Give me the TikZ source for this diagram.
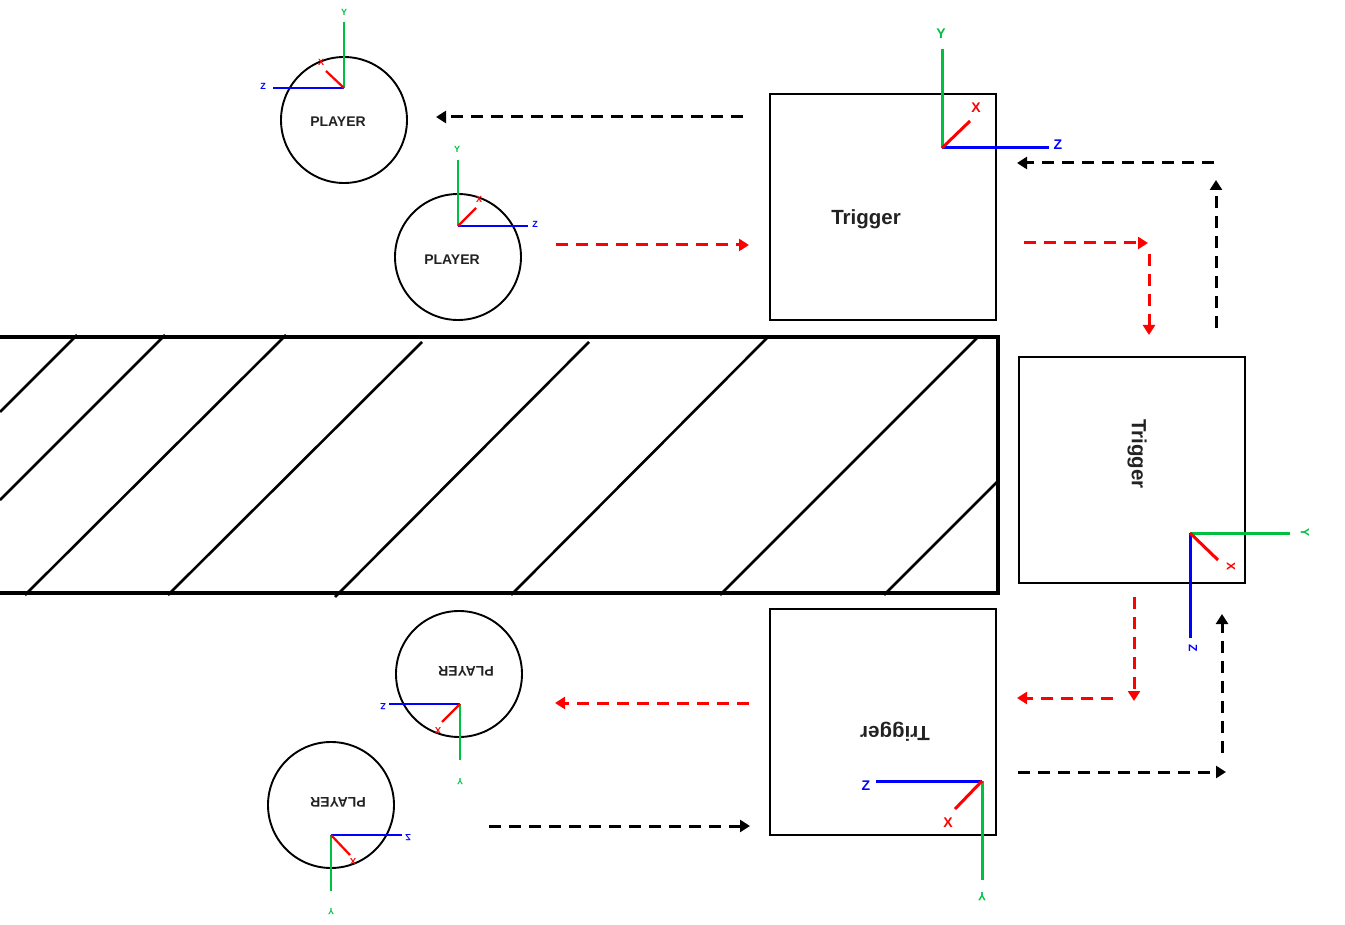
\documentclass[tikz,border=0pt]{standalone}
\usepackage{fontspec}
\setmainfont{Liberation Sans}
\usetikzlibrary{arrows.meta}
\definecolor{axg}{RGB}{0,192,64}
\definecolor{axr}{RGB}{255,0,0}
\definecolor{axb}{RGB}{0,0,255}
\definecolor{txt}{RGB}{34,34,34}
\tikzset{
  trigbox/.style={draw, line width=2.4pt, minimum width=226pt, minimum height=226pt, inner sep=0pt},
  player/.style={draw, circle, line width=1.9pt, minimum size=126pt, inner sep=0pt},
  ptext/.style={text=txt, font=\bfseries\fontsize{14}{14}\selectfont, inner sep=0pt},
  ttext/.style={text=txt, font=\bfseries\fontsize{20.5}{20.5}\selectfont, inner sep=0pt},
  biglab/.style={font=\bfseries\fontsize{14}{14}\selectfont, inner sep=0pt},
  smalllab/.style={font=\bfseries\fontsize{9}{9}\selectfont, inner sep=0pt},
  bigax/.style={line width=3pt},
  smallax/.style={line width=2.2pt},
  flow/.style={line width=3pt, dash pattern=on 12pt off 8pt, -{Triangle[width=12pt,length=10pt]}},
  hatch/.style={line width=2.6pt},
}
\begin{document}
\begin{tikzpicture}[x=1pt,y=-1pt]
\useasboundingbox (0,0) rectangle (1345,925);

% hatched block
\draw[line width=3.6pt] (-10,337) -- (998,337) -- (998,593) -- (-10,593);
\draw[hatch] (0,412) -- (77,335);
\draw[hatch] (0,500) -- (165,335);
\draw[hatch] (25,595) -- (286,335);
\draw[hatch] (168,595) -- (422,342);
\draw[hatch] (335,597) -- (589,342);
\draw[hatch] (511,595) -- (767,338);
\draw[hatch] (720,595) -- (977,338);
\draw[hatch] (884,595) -- (998,481);

% trigger boxes
\node[trigbox] (t1) at (883,207) {};
\node[trigbox] (t2) at (1132,470) {};
\node[trigbox] (t3) at (883,722) {};
\node[ttext] (t1txt) at (866,219) {Trigger};
\node[ttext, rotate=-90] (t2txt) at (1137,454) {Trigger};
\node[ttext, rotate=180] (t3txt) at (895,732) {Trigger};

% trigger 1 axes
\coordinate (o1) at (942,148);
\draw[bigax, axg] (o1) -- (942,49);
\draw[bigax, axb] (o1) -- (1049,148);
\draw[bigax, axr] (o1) -- (970,121);
\node[biglab, axg] (o1y) at (941,34) {Y};
\node[biglab, axb] (o1z) at (1058,145) {Z};
\node[biglab, axr] (o1x) at (976,108) {X};

% trigger 2 axes
\coordinate (o2) at (1190,533);
\draw[bigax, axg] (o2) -- (1290,533);
\draw[bigax, axb] (o2) -- (1190,638);
\draw[bigax, axr] (o2) -- (1218,560);
\node[smalllab, axg, rotate=-90, font=\bfseries\fontsize{12}{12}\selectfont] (o2y) at (1305,533) {Y};
\node[smalllab, axb, rotate=-90, font=\bfseries\fontsize{12}{12}\selectfont] (o2z) at (1193,648) {Z};
\node[smalllab, axr, rotate=-90, font=\bfseries\fontsize{12}{12}\selectfont] (o2x) at (1231,567) {X};

% trigger 3 axes
\coordinate (o3) at (982,781);
\draw[bigax, axb] (o3) -- (876,781);
\draw[bigax, axg] (o3) -- (982,880);
\draw[bigax, axr] (o3) -- (955,809);
\node[biglab, axb] (o3z) at (866,786) {Z};
\node[biglab, axr] (o3x) at (948,823) {X};
\node[biglab, axg, rotate=180, font=\bfseries\fontsize{12}{12}\selectfont] (o3y) at (982,897) {Y};

% players
\node[player] (p1) at (344,120) {};
\node[ptext] (p1txt) at (338,122) {PLAYER};
\node[player] (p2) at (458,257) {};
\node[ptext] (p2txt) at (452,260) {PLAYER};
\node[player] (p3) at (459,674) {};
\node[ptext, rotate=180] (p3txt) at (466,671) {PLAYER};
\node[player] (p4) at (331,805) {};
\node[ptext, rotate=180] (p4txt) at (338,802) {PLAYER};

% player 1 axes
\coordinate (q1) at (344,88);
\draw[smallax, axg] (q1) -- (344,22);
\draw[smallax, axb] (q1) -- (273,88);
\draw[smallax, axr] (q1) -- (326,71);
\node[smalllab, axg] (q1y) at (344,12) {Y};
\node[smalllab, axb] (q1z) at (263,86) {Z};
\node[smalllab, axr] (q1x) at (321,62) {X};

% player 2 axes
\coordinate (q2) at (458,226);
\draw[smallax, axg] (q2) -- (458,160);
\draw[smallax, axb] (q2) -- (528,226);
\draw[smallax, axr] (q2) -- (476,208);
\node[smalllab, axg] (q2y) at (457,149) {Y};
\node[smalllab, axb] (q2z) at (535,224) {Z};
\node[smalllab, axr] (q2x) at (479,199) {X};

% player 3 axes
\coordinate (q3) at (460,704);
\draw[smallax, axg] (q3) -- (460,760);
\draw[smallax, axb] (q3) -- (389,704);
\draw[smallax, axr] (q3) -- (442,722);
\node[smalllab, axg, rotate=180] (q3y) at (460,782) {Y};
\node[smalllab, axb, rotate=180] (q3z) at (383,707) {Z};
\node[smalllab, axr, rotate=180] (q3x) at (438,731) {X};

% player 4 axes
\coordinate (q4) at (331,835);
\draw[smallax, axg] (q4) -- (331,891);
\draw[smallax, axb] (q4) -- (402,835);
\draw[smallax, axr] (q4) -- (350,855);
\node[smalllab, axg, rotate=180] (q4y) at (331,912) {Y};
\node[smalllab, axb] (q4z) at (408,838) {\scalebox{1}[-1]{Z}};
\node[smalllab, axr, rotate=180] (q4x) at (353,862) {X};

% flow arrows
\coordinate (a1s) at (743,117); \coordinate (a1e) at (436,117);
\draw[flow, black] (a1s) -- (a1e);
\coordinate (a2s) at (556,245); \coordinate (a2e) at (749,245);
\draw[flow, axr] (a2s) -- (a2e);
\coordinate (a3s) at (1024,243); \coordinate (a3e) at (1148,243);
\draw[flow, axr] (a3s) -- (a3e);
\coordinate (a4s) at (1149,254); \coordinate (a4e) at (1149,335);
\draw[flow, axr] (a4s) -- (a4e);
\coordinate (a5s) at (1216,328); \coordinate (a5e) at (1216,180);
\draw[flow, black] (a5s) -- (a5e);
\coordinate (a6s) at (1214,163); \coordinate (a6e) at (1017,163);
\draw[flow, black] (a6s) -- (a6e);
\coordinate (a7s) at (1134,597); \coordinate (a7e) at (1134,701);
\draw[flow, axr] (a7s) -- (a7e);
\coordinate (a8s) at (1113,698); \coordinate (a8e) at (1017,698);
\draw[flow, axr] (a8s) -- (a8e);
\coordinate (a9s) at (749,703); \coordinate (a9e) at (555,703);
\draw[flow, axr] (a9s) -- (a9e);
\coordinate (a10s) at (1018,772); \coordinate (a10e) at (1226,772);
\draw[flow, black] (a10s) -- (a10e);
\coordinate (a11s) at (1222,753); \coordinate (a11e) at (1222,614);
\draw[flow, black] (a11s) -- (a11e);
\coordinate (a12s) at (489,826); \coordinate (a12e) at (750,826);
\draw[flow, black] (a12s) -- (a12e);
\end{tikzpicture}
\end{document}
